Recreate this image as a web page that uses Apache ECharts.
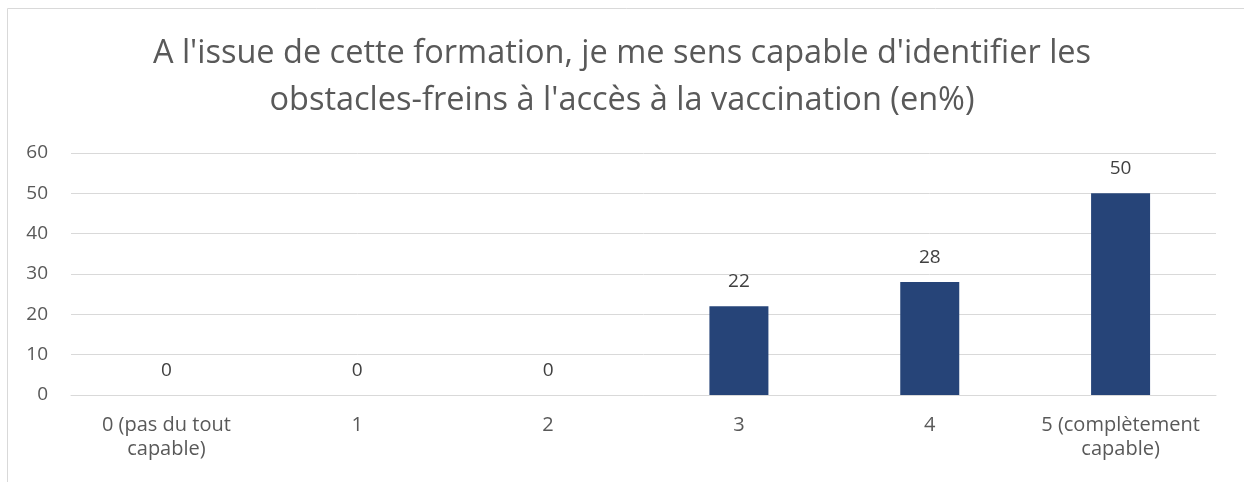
<!DOCTYPE html>
<html>
<head>
<meta charset="utf-8">
<script src="https://cdn.jsdelivr.net/npm/echarts@6/dist/echarts.min.js"></script>
<style>
  html, body { margin: 0; padding: 0; background: #fff; }
  #layout { width: 1244px; height: 482px; }
</style>
</head>
<body>
<div id="layout"></div>
<script>
// données
let categories = ['0 (pas du tout\ncapable)', '1', '2', '3', '4', '5 (complètement\ncapable)'];
let values = [0, 0, 0, 22, 28, 50];
let yTicks = [0, 10, 20, 30, 40, 50, 60];

let myChart = echarts.init(document.getElementById('layout'));
let option = {
    animation: false,
    textStyle: { fontFamily: 'Open Sans' },
    title: {
        text: "A l'issue de cette formation, je me sens capable d'identifier les\nobstacles-freins à l'accès à la vaccination (en%)",
        left: 'center',
        top: 25,
        textStyle: {
            fontSize: 32.5,
            fontWeight: 'normal',
            color: '#595959',
            lineHeight: 47
        }
    },
    graphic: [{
        type: 'rect',
        shape: { x: 7.5, y: 8.5, width: 1400, height: 600 },
        style: { fill: 'none', stroke: '#d9d9d9', lineWidth: 1 },
        silent: true
    }],
    grid: { left: 71, right: 28, top: 153, bottom: 87 },
    xAxis: {
        type: 'category',
        data: categories,
        axisLine: { lineStyle: { color: '#d9d9d9' } },
        axisTick: { show: false },
        axisLabel: {
            color: '#595959',
            fontSize: 20,
            lineHeight: 24,
            margin: 18,
            interval: 0
        }
    },
    yAxis: {
        type: 'value',
        min: yTicks[0],
        max: yTicks[yTicks.length - 1],
        interval: 10,
        axisLine: { show: false },
        axisTick: { show: false },
        splitLine: { lineStyle: { color: '#d9d9d9' } },
        axisLabel: { color: '#595959', fontSize: 19, margin: 23 }
    },
    series: [{
        type: 'bar',
        data: values,
        barWidth: 59,
        itemStyle: { color: '#264478' },
        label: {
            show: true,
            position: 'top',
            distance: 15,
            color: '#404040',
            fontSize: 19
        }
    }]
};
myChart.setOption(option);
window.onresize = myChart.resize;
</script>
</body>
</html>
